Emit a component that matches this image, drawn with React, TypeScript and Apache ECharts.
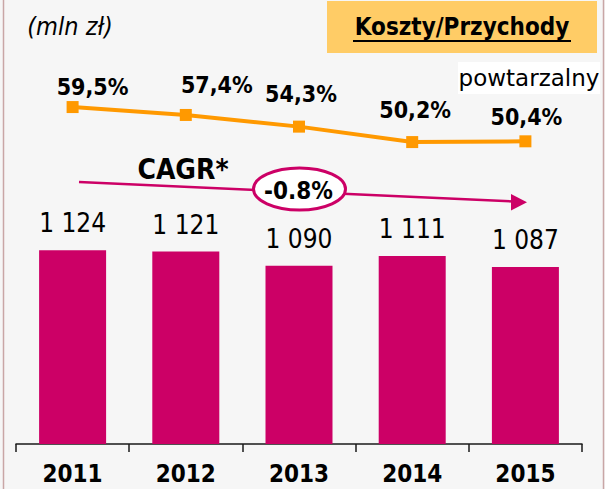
import React, { useEffect, useRef } from "react";
import * as echarts from "echarts";

const years = ["2011", "2012", "2013", "2014", "2015"];
const costs = [1124, 1121, 1090, 1111, 1087];
const costIncomeRatio = [59.5, 57.4, 54.3, 50.2, 50.4];
const unitLabel = "(mln zł)";
const titleLabel = "Koszty/Przychody";
const noteLabel = "powtarzalny";
const cagrLabel = "CAGR*";
const cagrValue = "-0.8%";

const FONT = "'DejaVu Sans Condensed', 'DejaVu Sans', sans-serif";
const MAGENTA = "#cc0066";
const ORANGE = "#ff9900";

const fmtThousands = (v: number) => {
  const s = String(Math.round(v));
  return s.replace(/\B(?=(\d{3})+(?!\d))/g, " ");
};
const fmtPct = (v: number) => v.toFixed(1).replace(".", ",") + "%";

function txt(text: string, x: number, y: number, size: number, weight: string, extra: any = {}) {
  return {
    type: "text",
    x,
    y,
    z: 20,
    style: {
      text,
      fill: "#000",
      fontSize: size,
      fontWeight: weight,
      fontFamily: FONT,
      align: "center",
      verticalAlign: "middle",
      textAlign: "center",
      textVerticalAlign: "middle",
      ...extra,
    },
  };
}

export default function App() {
  const ref = useRef<HTMLDivElement>(null);
  useEffect(() => {
    if (!ref.current) return;
    const chart = echarts.init(ref.current, undefined, { renderer: "svg" });
    const lineLabelShift = [
      [20, -3],
      [31, -12],
      [2, -15],
      [3, -15],
      [1, -7],
    ];
    const option: any = {
      animation: false,
      backgroundColor: "#f6f6f6",
      grid: { left: 16, right: 23, top: 60, bottom: 45 },
      xAxis: {
        type: "category",
        data: years,
        boundaryGap: true,
        axisLine: { onZero: false, lineStyle: { color: "#1a1a1a", width: 1.5 } },
        axisTick: { show: true, length: 8, lineStyle: { color: "#1a1a1a", width: 1.5 } },
        axisLabel: {
          margin: 18,
          color: "#000",
          fontSize: 24,
          fontWeight: "bold",
          fontFamily: FONT,
        },
      },
      yAxis: [
        { type: "value", min: 700, max: 1540, show: false },
        { type: "value", min: -30, max: 72, show: false },
      ],
      series: [
        {
          type: "bar",
          data: costs,
          yAxisIndex: 0,
          barWidth: 67,
          itemStyle: { color: MAGENTA },
          label: {
            show: true,
            position: "top",
            distance: 14,
            color: "#000",
            fontSize: 26,
            fontFamily: FONT,
            formatter: (p: any) => fmtThousands(p.value),
          },
        },
        {
          type: "line",
          yAxisIndex: 1,
          data: costIncomeRatio.map((v, i) => ({ value: v, label: { offset: lineLabelShift[i] } })),
          symbol: "rect",
          symbolSize: 12,
          lineStyle: { color: ORANGE, width: 4 },
          itemStyle: { color: ORANGE },
          label: {
            show: true,
            position: "top",
            distance: 0,
            color: "#000",
            fontSize: 23,
            fontWeight: "bold",
            fontFamily: FONT,
            formatter: (p: any) => fmtPct(p.value),
          },
          z: 5,
        },
      ],
      graphic: [
        { type: "line", shape: { x1: 3.5, y1: 0, x2: 3.5, y2: 489 }, style: { stroke: "#c9a6a6", lineWidth: 1.5 } },
        { type: "line", shape: { x1: 603.5, y1: 0, x2: 603.5, y2: 489 }, style: { stroke: "#c9a6a6", lineWidth: 1.5 } },
        { type: "rect", shape: { x: 327, y: 1, width: 270, height: 52 }, style: { fill: "#ffcc66" } },
        txt(titleLabel, 462, 27, 24, "bold"),
        { type: "line", z: 20, shape: { x1: 353, y1: 41, x2: 571, y2: 41 }, style: { stroke: "#000", lineWidth: 2 } },
        txt(unitLabel, 70, 26, 25, "normal", { fontStyle: "italic" }),
        { type: "rect", shape: { x: 458, y: 62, width: 142, height: 32 }, style: { fill: "#ffffff" } },
        txt(noteLabel, 529, 78, 23, "normal", { fontFamily: "'DejaVu Sans', sans-serif" }),
        txt(cagrLabel, 183, 169, 28, "bold"),
        { type: "polyline", z: 10, shape: { points: [[79, 182], [514, 201.5]] }, style: { stroke: MAGENTA, lineWidth: 2.5, fill: null } },
        { type: "polygon", z: 10, shape: { points: [[527, 202.3], [511, 194], [511, 210.5]] }, style: { fill: MAGENTA } },
        { type: "ellipse", z: 15, shape: { cx: 299.5, cy: 189, rx: 46, ry: 21 }, style: { fill: "#ffffff", stroke: MAGENTA, lineWidth: 3 } },
        txt(cagrValue, 298.5, 191, 24, "bold"),
      ],
    };
    chart.setOption(option);
    return () => chart.dispose();
  }, []);
  return (
    <div
      ref={ref}
      style={{ position: "fixed", left: 0, top: 0, width: 605, height: 489 }}
    />
  );
}
